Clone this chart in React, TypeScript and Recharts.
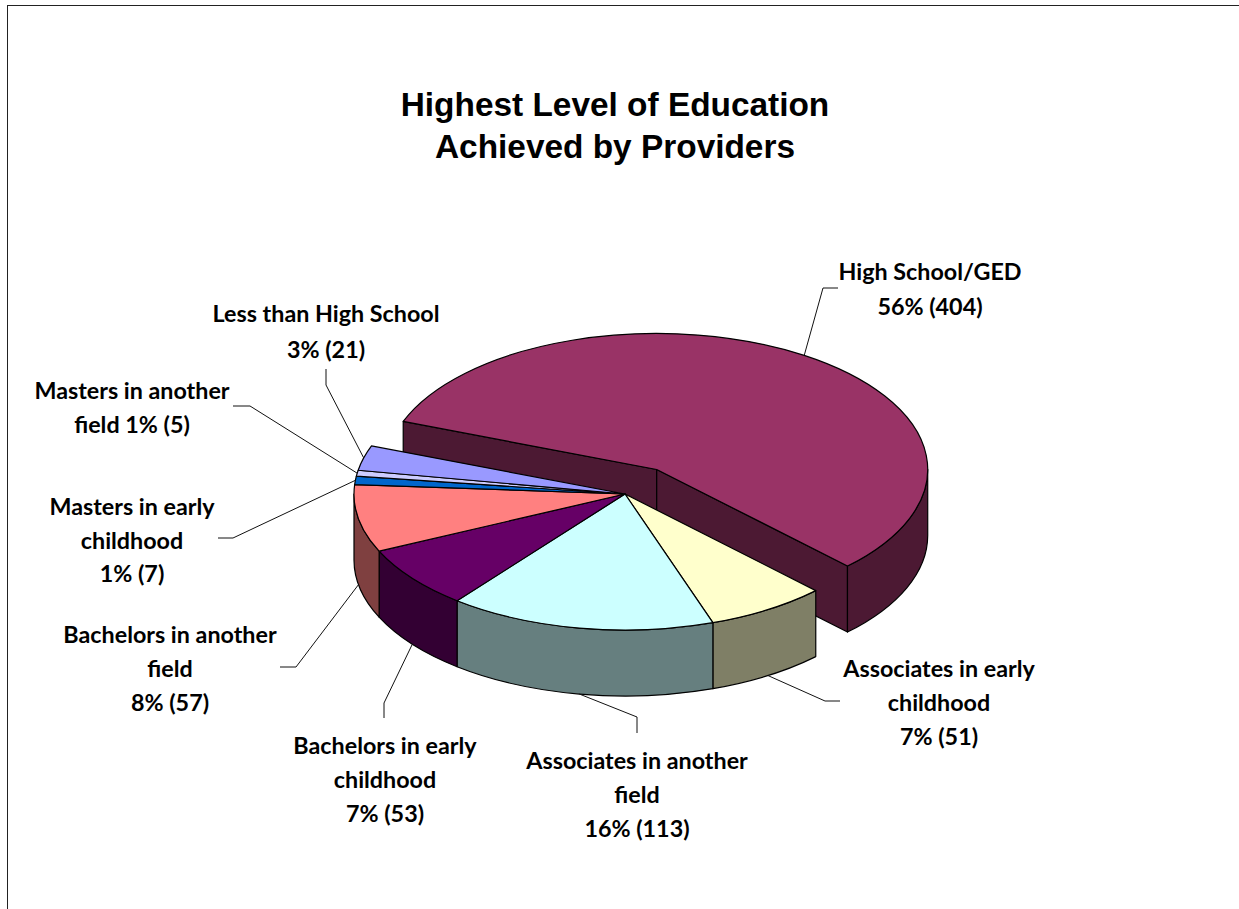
import React from 'react';
import { Pie, PieChart } from 'recharts';

const categories = [
  'High School/GED',
  'Associates in early childhood',
  'Associates in another field',
  'Bachelors in early childhood',
  'Bachelors in another field',
  'Masters in early childhood',
  'Masters in another field',
  'Less than High School',
];
const counts = [404, 51, 113, 53, 57, 7, 5, 21];
const labelLines = [
  ['High School/GED', '56% (404)'],
  ['Associates in early', 'childhood', '7% (51)'],
  ['Associates in another', 'field', '16% (113)'],
  ['Bachelors in early', 'childhood', '7% (53)'],
  ['Bachelors in another', 'field', '8% (57)'],
  ['Masters in early', 'childhood', '1% (7)'],
  ['Masters in another', 'field 1% (5)'],
  ['Less than High School', '3% (21)'],
];
const titleLines = ['Highest Level of Education', 'Achieved by Providers'];

const sliceColors = ['#993366', '#FFFFCC', '#CCFFFF', '#660066', '#FF8080', '#0066CC', '#CCCCFF', '#9999FF'];
const explodeFractions = [0.215, 0, 0, 0, 0, 0, 0, 0];

// label placement: text centre, first baseline, line pitch per category
const labelCenters = [930, 939, 637, 385, 170, 132, 132, 326];
const labelBaselines = [280, 677, 769, 754, 643, 515, 399, 322];
const labelPitches = [35, 34, 34, 34, 34, 33.5, 34, 36];
// leader lines run from the slice edge to an elbow, then a short horizontal or vertical stub
const leaderElbows = [[823, 288], [825, 701], [637, 717], [384, 703], [296, 667], [233, 538], [250, 406], [326, 385]];
const leaderEnds = [[838, 288], [840, 701], [637, 733], [384, 718], [280, 667], [218, 538], [233, 406], [326, 369]];

const WIDTH = 1239;
const HEIGHT = 909;
const PIE_CX = 625;
const PIE_CY = 494;
const RADIUS = 271;
const TILT = 136 / 271;
const DEPTH = 66;
const START_ANGLE = 159.3;

const pieData = categories.map((name, i) => ({ name, value: counts[i], fill: sliceColors[i] }));

const rad = (deg: number) => (deg * Math.PI) / 180;

const halfShade = (hex: string) => {
  const n = parseInt(hex.slice(1), 16);
  const r = (n >> 16) >> 1;
  const g = ((n >> 8) & 255) >> 1;
  const b = (n & 255) >> 1;
  return `rgb(${r},${g},${b})`;
};

const explodeOffset = (index: number, midAngle: number, radius: number) => {
  const e = explodeFractions[index] * radius;
  return { dx: e * Math.cos(rad(midAngle)), dy: -e * TILT * Math.sin(rad(midAngle)) };
};

// Recharts hands over the sector angles; this flattens them into a tilted disc with a rim.
const Slice3D = (props: any) => {
  const { cx, cy, outerRadius, startAngle, endAngle, midAngle, fill, index } = props;
  const i = index ?? pieData.findIndex((d) => d.name === props.name);
  const { dx, dy } = explodeOffset(i, midAngle, outerRadius);
  const ox = cx + dx;
  const oy = cy + dy;
  const rx = outerRadius;
  const ry = outerRadius * TILT;
  const px = (a: number) => ox + rx * Math.cos(rad(a));
  const py = (a: number) => oy - ry * Math.sin(rad(a));
  const shade = halfShade(fill);
  const large = Math.abs(startAngle - endAngle) > 180 ? 1 : 0;

  const top = `M${ox},${oy} L${px(startAngle)},${py(startAngle)} A${rx},${ry} 0 ${large} 1 ${px(endAngle)},${py(endAngle)} Z`;

  // only the part of the rim below the disc's horizontal axis faces the viewer
  const rimFrom = Math.min(startAngle, 0);
  const rimTo = Math.max(endAngle, -180);
  const rim =
    rimFrom > rimTo
      ? `M${px(rimFrom)},${py(rimFrom)} A${rx},${ry} 0 0 1 ${px(rimTo)},${py(rimTo)} L${px(rimTo)},${py(rimTo) + DEPTH} A${rx},${ry} 0 0 0 ${px(rimFrom)},${py(rimFrom) + DEPTH} Z`
      : null;

  const cutFace = (a: number) =>
    `M${ox},${oy} L${px(a)},${py(a)} L${px(a)},${py(a) + DEPTH} L${ox},${oy + DEPTH} Z`;

  const edge = { stroke: '#000', strokeWidth: 1.2, strokeLinejoin: 'round' as const };
  return (
    <g>
      {explodeFractions[i] > 0 && (
        <>
          <path d={cutFace(startAngle)} fill={shade} {...edge} />
          <path d={cutFace(endAngle)} fill={shade} {...edge} />
        </>
      )}
      {rim && <path d={rim} fill={shade} {...edge} />}
      <path d={top} fill={fill} {...edge} />
    </g>
  );
};

const renderLabel = (props: any) => {
  const { index, midAngle, cx, cy, outerRadius } = props;
  const { dx, dy } = explodeOffset(index, midAngle, outerRadius);
  const sin = Math.sin(rad(midAngle));
  const tipX = cx + dx + outerRadius * Math.cos(rad(midAngle));
  const tipY = cy + dy - outerRadius * TILT * sin + (sin < 0 ? DEPTH : 0);
  const [ex, ey] = leaderElbows[index];
  const [sx, sy] = leaderEnds[index];
  return (
    <g key={categories[index]}>
      <polyline points={`${tipX},${tipY} ${ex},${ey} ${sx},${sy}`} fill="none" stroke="#111" strokeWidth={1} />
      <text
        textAnchor="middle"
        fontFamily="Lato, sans-serif"
        fontWeight={700}
        fontSize={23.3}
        fill="#000"
      >
        {labelLines[index].map((line, j) => (
          <tspan key={line} x={labelCenters[index]} y={labelBaselines[index] + j * labelPitches[index]}>
            {line}
          </tspan>
        ))}
      </text>
    </g>
  );
};

export default function App() {
  return (
    <div
      style={{
        position: 'absolute',
        left: 0,
        top: 0,
        width: WIDTH,
        height: HEIGHT,
        overflow: 'hidden',
        background: '#fff',
      }}
    >
      <div
        style={{
          position: 'absolute',
          left: 7,
          top: 5,
          width: WIDTH,
          height: HEIGHT,
          borderLeft: '1.5px solid #222',
          borderTop: '1.5px solid #222',
        }}
      />
      <PieChart width={WIDTH} height={HEIGHT} margin={{ top: 0, right: 0, bottom: 0, left: 0 }} style={{ position: 'absolute', left: 0, top: 0 }}>
        <Pie
          data={pieData}
          dataKey="value"
          nameKey="name"
          cx={PIE_CX}
          cy={PIE_CY}
          innerRadius={0}
          outerRadius={RADIUS}
          startAngle={START_ANGLE}
          endAngle={START_ANGLE - 360}
          paddingAngle={0}
          shape={Slice3D}
          inactiveShape={Slice3D}
          activeShape={Slice3D}
          label={renderLabel}
          labelLine={false}
          isAnimationActive={false}
        />
        <text textAnchor="middle" fontFamily="'Liberation Sans', Arial, sans-serif" fontWeight={700} fontSize={33.4} fill="#000">
          {titleLines.map((line, i) => (
            <tspan key={line} x={615} y={115.5 + i * 42}>
              {line}
            </tspan>
          ))}
        </text>
      </PieChart>
    </div>
  );
}
